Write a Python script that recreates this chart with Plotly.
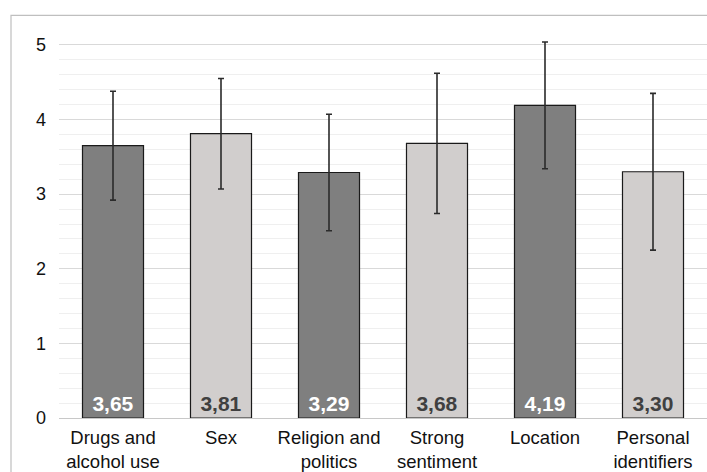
import plotly.graph_objects as go

categories = ["Drugs and<br>alcohol use", "Sex", "Religion and<br>politics",
              "Strong<br>sentiment", "Location", "Personal<br>identifiers"]
means = [3.65, 3.81, 3.29, 3.68, 4.19, 3.30]
errors = [0.73, 0.74, 0.78, 0.94, 0.85, 1.05]
y_ticks = [0, 1, 2, 3, 4, 5]

dark = "#7f7f7f"
light = "#d1cecd"
colors = [dark if i % 2 == 0 else light for i in range(len(means))]
text_colors = ["#ffffff" if i % 2 == 0 else "#404040" for i in range(len(means))]
labels = [f"{v:.2f}".replace(".", ",") for v in means]

FONT = "Liberation Sans, Arial, sans-serif"

fig = go.Figure()
fig.add_trace(go.Bar(
    x=categories, y=means,
    marker=dict(color=colors, line=dict(color="#1a1a1a", width=1.2)),
    width=0.565,
    error_y=dict(type="data", array=errors, visible=True,
                 color="#2b2b2b", thickness=1.6, width=3),
    text=labels, textposition="inside", insidetextanchor="start",
    textangle=0,
    textfont=dict(family=FONT, size=21, color=text_colors, weight="bold"),
    cliponaxis=False,
))

fig.update_layout(
    width=707, height=472,
    margin=dict(l=59, r=0, t=30, b=46),
    paper_bgcolor="white", plot_bgcolor="white",
    showlegend=False,
    font=dict(family=FONT, size=18, color="#111111"),
    xaxis=dict(showgrid=False, showline=False, ticks="",
               tickfont=dict(size=18.5, color="#111111"), ticklabelstandoff=6),
    yaxis=dict(range=[0, 5.2], tickvals=y_ticks, showgrid=True,
               gridcolor="#d9d9d9", gridwidth=1,
               zeroline=True, zerolinecolor="#c8c8c8", zerolinewidth=1.2,
               showline=False, ticks="", ticklabelstandoff=12,
               tickfont=dict(size=18, color="#111111"),
               minor=dict(dtick=0.2, showgrid=True, gridcolor="#efefef", gridwidth=1)),
    shapes=[dict(type="rect", xref="paper", yref="paper",
                 x0=(11 - 59) / 648, x1=1.05, y0=-0.3, y1=1 + 15 / 396,
                 line=dict(color="#bfbfbf", width=1.2), fillcolor="rgba(0,0,0,0)",
                 layer="below")],
)

fig.write_html("out.html", config={"displayModeBar": False},
               post_script="document.body.style.margin='0';document.body.style.overflow='hidden';")
